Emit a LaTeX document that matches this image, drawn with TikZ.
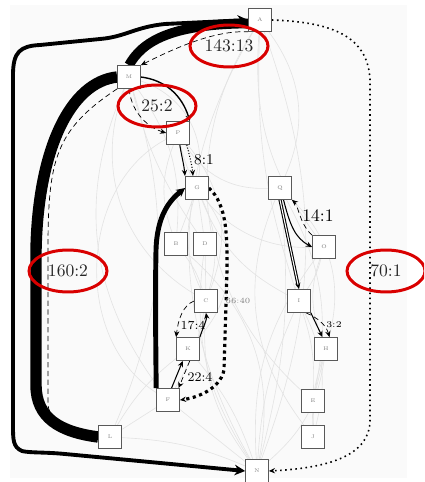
\documentclass[tikz,border=0pt]{standalone}
\usetikzlibrary{arrows.meta, positioning, shapes.geometric, backgrounds}
\tikzset{
    blk/.style={
        rectangle,
        draw=black!65,
        fill=white,
        minimum size=0.46cm,
        inner sep=0pt,
        font=\fontsize{3}{3}\selectfont,
        text=gray
    },
    faint/.style={gray!22, line width=0.35pt},
    tip/.style={-{Stealth[length=3.5pt,width=3pt]}},
    ratio/.style={font=\fontsize{10}{10}\selectfont, text=black!85},
    redring/.style={
        ellipse,
        draw=red!85!black,
        line width=1.7pt,
        minimum width=1.56cm,
        minimum height=0.84cm,
        inner sep=0pt
    }
}

\begin{document}
\begin{tikzpicture}[x=0.02cm, y=-0.02cm]
            \useasboundingbox (0,0) rectangle (424,482);
            \clip (0,0) rectangle (424,482);

            % Nodes
            \node[blk] (A) at (260,20) {A};
            \node[blk] (M) at (129,77) {M};
            \node[blk] (P) at (178,133) {P};
            \node[blk] (G) at (197,188) {G};
            \node[blk] (Q) at (280,188) {Q};
            \node[blk] (B) at (176,244) {B};
            \node[blk] (D) at (205,244) {D};
            \node[blk] (O) at (324,247) {O};
            \node[blk] (C) at (206,301) {C};
            \node[blk] (I) at (299,301) {I};
            \node[blk] (K) at (188,349) {K};
            \node[blk] (H) at (326,349) {H};
            \node[blk] (F) at (168,400) {F};
            \node[blk] (E) at (313,401) {E};
            \node[blk] (J) at (313,437) {J};
            \node[blk] (L) at (110,437) {L};
            \node[blk] (N) at (257,471) {N};

            \begin{scope}[on background layer]
            \fill[gray!4] (10,5) rectangle (407,478);

            % Faint background edges
            \foreach \a/\b/\bd in {G/B/0, G/D/0, G/C/20, G/C/-20, B/C/10, D/C/0,
                P/C/30, P/B/-20, C/F/10, C/N/-20, F/L/0, F/N/0, K/N/10, B/N/30,
                D/N/-20, L/N/10, M/L/20, M/F/-30, M/G/40, P/Q/-30, P/O/-40,
                Q/N/10, O/I/10, O/H/-20, I/E/10, I/J/20, H/E/0, H/J/-10, E/J/0,
                O/N/-20, H/N/20, A/Q/30, A/O/-20, A/I/-10, Q/E/20, G/I/-20,
                G/K/40, K/L/-10, M/D/-10, M/B/20, A/N/20, A/N/-30, P/F/-60,
                Q/J/-30, I/N/-10, M/C/-40, A/E/-40, Q/H/30}
                \draw[faint] (\a) to[bend left=\bd] (\b);

            % Outer loop
            \draw[line width=2.2pt, {Stealth[length=6pt,width=6pt]}-{Stealth[length=6pt,width=6pt]}]
                (N.west) -- (65,454) .. controls (45,452) and (30,453) .. (22,451)
                .. controls (13,447) and (13,440) .. (13,425) -- (13,75)
                .. controls (13,52) and (20,46) .. (40,45) -- (100,39)
                .. controls (125,37) and (135,27) .. (165,24) -- (A.west);

            % Thick bands
            \draw[densely dashed, thin] (M.south west) .. controls (55,130) and (48,160) .. (48,250)
                -- (48,405) .. controls (50,425) and (80,435) .. (L.west);
            \draw[line width=6.5pt] (L.west) .. controls (60,432) and (36,418) .. (36,385)
                -- (36,250) .. controls (38,150) and (70,82) .. (M.west);
            \draw[line width=5.5pt] (M.north) .. controls (142,42) and (170,24) .. ([yshift=-2pt]A.west);
            \draw[densely dashed, thin, {Stealth[length=3.5pt,width=3pt]}-] (M.north east) .. controls (175,48) and (215,30) .. (A.south west);

            % M to P
            \draw[thick, tip] (M.east) .. controls (165,80) and (182,95) .. (P.north east);
            \draw[densely dashed, thin, tip] (M.south) .. controls (132,115) and (150,128) .. (P.west);

            % P to G
            \draw[semithick, tip] ([xshift=1pt]P.south) .. controls (182,158) and (184,165) .. (185,176);
            \draw[densely dotted, semithick, tip] ([xshift=5pt]P.south) .. controls (190,158) and (192,165) .. (193,176);

            % G and F
            \draw[line width=2.8pt, -{Stealth[length=5pt,width=5pt]}] (F.north west) .. controls (156,360) and (155,300) .. (156,250)
                .. controls (157,215) and (170,200) .. (G.west);
            \draw[line width=1.8pt, dotted, tip] (G.east) .. controls (228,205) and (227,240) .. (227,270)
                -- (224,370) .. controls (220,390) and (195,398) .. (F.east);

            % C and K
            \draw[densely dashed, thin, tip] (C.west) .. controls (183,305) and (178,320) .. (K.north west);
            \draw[semithick, tip] (K.north east) .. controls (202,330) and (207,320) .. (C.south);

            % K and F
            \draw[semithick, tip] ([xshift=2pt]F.north) -- ([xshift=-3pt]K.south);
            \draw[densely dashed, thin, tip] ([xshift=1pt]K.south) -- ([xshift=6pt]F.north);

            % Q, O and I
            \draw[semithick, double, tip] (Q.south) -- (I.north);
            \draw[semithick, tip] ([xshift=2pt]Q.south) .. controls (290,225) and (295,238) .. (O.west);
            \draw[densely dashed, thin, tip] (O.north west) .. controls (300,225) and (298,205) .. (Q.south east);

            % I and H
            \draw[semithick, tip] (I.south east) -- ([xshift=-2pt]H.north);
            \draw[densely dashed, thin, tip] ([xshift=4pt]I.south) .. controls (318,318) and (326,325) .. ([xshift=2pt]H.north);

            % A to N
            \draw[dotted, line width=0.9pt, tip] (A.east) .. controls (330,22) and (368,35) .. (370,80)
                -- (370,420) .. controls (370,455) and (330,468) .. (N.east);
            \end{scope}

            % Counts
            \node[redring, ratio] (r143) at (229,46) {143:13};
            \node[redring, ratio] (r25) at (157,106) {25:2};
            \node[redring, ratio] (r160) at (68,271) {160:2};
            \node[redring, ratio] (r70) at (386,271) {70:1};
            \node[font=\fontsize{8.5}{8.5}\selectfont] (l81) at (204,160) {8:1};
            \node[font=\fontsize{10}{10}\selectfont] (l141) at (318,216) {14:1};
            \node[font=\fontsize{4.5}{4.5}\selectfont, text=gray] (l6640) at (238,301) {66:40};
            \node[font=\fontsize{7}{7}\selectfont] (l174) at (193,325) {17:4};
            \node[font=\fontsize{7.5}{7.5}\selectfont] (l224) at (200,377) {22:4};
            \node[font=\fontsize{5}{5}\selectfont] (l32) at (334,325) {3:2};
            \end{tikzpicture}
\end{document}
